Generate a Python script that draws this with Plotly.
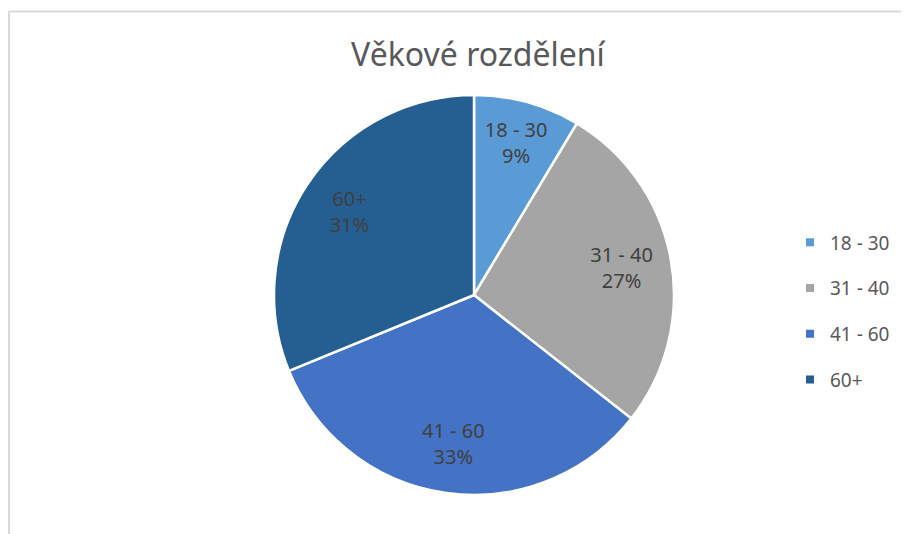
import plotly.graph_objects as go

categories = ["18 - 30", "31 - 40", "41 - 60", "60+"]
shares = [8.6, 27.0, 33.2, 31.2]
colors = ["#5B9BD5", "#A5A5A5", "#4472C4", "#255E91"]
title_text = "Věkové rozdělení"

# page body has an 8px margin; figure fills the rest of the 909x534 window
OFF = 8
W, H = 909 - OFF, 534 - OFF
def px(x):
    return (x - OFF) / W
def py(y):
    return 1 - (y - OFF) / H

dom = dict(x=[px(274), px(674)], y=[py(495), py(95)])

fig = go.Figure()
fig.add_trace(go.Pie(
    labels=categories, values=shares, sort=False, direction="clockwise", rotation=0,
    marker=dict(colors=colors, line=dict(color="white", width=2.5)),
    textinfo="none", domain=dom, showlegend=False, hoverinfo="label+percent",
))
# transparent ring on top, only to carry the data labels further out
fig.add_trace(go.Pie(
    labels=categories, values=shares, sort=False, direction="clockwise", rotation=0,
    hole=0.5,
    marker=dict(colors=["rgba(0,0,0,0)"] * len(categories), line=dict(width=0)),
    textinfo="label+percent", textposition="inside", insidetextorientation="horizontal",
    texttemplate="%{label}<br>%{percent:.0%}",
    textfont=dict(family="Noto Sans", size=20, color="#404040"),
    domain=dom, showlegend=False, hoverinfo="skip",
))
for c, col in zip(categories, colors):
    fig.add_trace(go.Scatter(
        x=[None], y=[None], mode="markers", name=c, legendgroup=c,
        marker=dict(symbol="square", size=8, color=col),
    ))

fig.update_layout(
    width=W, height=H, margin=dict(l=0, r=0, t=0, b=0),
    paper_bgcolor="white", plot_bgcolor="white",
    title=dict(text=title_text, x=px(478), xanchor="center", y=py(55), yanchor="middle",
               font=dict(family="Noto Sans", size=32, color="#595959")),
    xaxis=dict(visible=False), yaxis=dict(visible=False),
    legend=dict(x=px(790), xanchor="left", y=py(311), yanchor="middle",
                font=dict(family="Noto Sans", size=19, color="#595959"),
                traceorder="grouped", tracegroupgap=18, itemclick=False),
    shapes=[
        dict(type="line", xref="paper", yref="paper", x0=px(9), x1=px(9), y0=py(11.5), y1=0,
             line=dict(color="#D9D9D9", width=2)),
        dict(type="line", xref="paper", yref="paper", x0=px(9), x1=1, y0=py(11.5), y1=py(11.5),
             line=dict(color="#D9D9D9", width=2)),
    ],
)
fig.write_html("out.html")
